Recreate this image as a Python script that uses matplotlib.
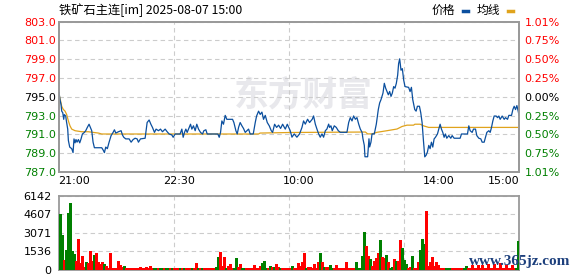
import matplotlib
matplotlib.use("Agg")
import matplotlib.pyplot as plt
from matplotlib.lines import Line2D
import numpy as np

# ---- data ----
title = "铁矿石主连[im] 2025-08-07 15:00"
time_labels = ["21:00", "22:30", "10:00", "14:00", "15:00"]
time_label_min = [0, 90, 180, 285, 345]   # trading minutes since 21:00
session_len = 345

price_min = [0.4, 1.1, 1.9, 2.4, 3.2, 3.9, 4.4, 5.4, 5.9, 6.9, 7.4, 8.4, 9.9, 10.9, 11.6, 12.4,
             13.1, 13.9, 14.9, 15.9, 16.9, 17.9, 19.4, 20.4, 21.6, 22.9, 23.9, 24.9, 25.9, 26.9,
             32.4, 33.6, 34.4, 35.4, 36.6, 37.9, 39.4, 40.9, 41.9, 42.9, 44.9, 46.9, 47.9, 48.9,
             50.4, 52.9, 54.4, 55.9, 57.4, 58.9, 59.9, 61.4, 64.9, 65.6, 66.4, 67.9, 69.2, 70.4,
             71.9, 73.1, 74.9, 76.4, 77.9, 79.9, 81.4, 82.9, 84.9, 85.9, 87.4,
             91.1, 92.4, 93.4, 94.4, 95.4, 96.4, 97.9, 98.9, 99.9, 101.1, 102.4, 103.6, 104.9,
             106.4, 107.9, 108.9, 110.4, 111.4, 119.4, 120.4, 121.4, 122.4, 123.6, 124.9, 126.1,
             130.4, 131.4, 132.9, 133.9, 134.9, 136.1, 137.4, 138.6, 139.9, 142.4, 143.6, 145.9,
             147.4, 148.4, 149.9, 151.1, 152.4, 153.6, 154.9, 156.4, 157.9, 159.4, 160.4, 161.9,
             163.4, 164.9, 166.4, 167.9, 169.9, 171.4, 173.6, 174.9, 176.6, 178.6, 180.6,
             182.4, 183.6, 184.9, 186.6, 188.1, 189.1, 190.1, 191.1, 192.4, 193.6, 194.9, 196.1,
             197.4, 198.6, 199.9, 201.1, 202.4, 203.1, 204.1, 205.1, 206.6, 208.1, 209.6, 211.1,
             216.1, 217.4, 218.6, 219.9, 221.1, 222.4, 223.6, 224.9, 226.1, 227.4, 228.1, 229.1,
             229.6, 231.6, 232.6, 233.1, 234.1, 234.9, 236.6, 238.1, 239.6, 240.6, 241.6, 243.1,
             244.1, 245.1, 246.1, 247.1, 248.1, 249.1, 250.1, 251.1, 252.1, 253.1, 254.1, 254.8,
             255.6, 256.6, 257.6, 258.6, 259.6, 262.3, 263.4, 264.4, 265.4, 266.9, 267.9, 268.9,
             270.4, 271.4, 272.4, 273.4, 274.4, 275.4, 276.4, 277.4, 278.4, 279.4, 280.4, 281.4,
             282.4, 283.9, 284.9, 285.9, 286.9, 287.9, 288.9, 289.9, 290.9, 292.4, 293.9, 294.9,
             296.4, 300.9, 301.9, 306.4, 307.4, 308.4, 309.9, 310.9, 312.4, 313.4, 314.9, 316.4,
             317.4, 318.9, 319.9, 320.9, 322.4, 323.4, 324.4, 325.4, 326.4, 327.9, 328.9, 329.9,
             330.9, 332.4, 333.9, 334.9, 336.4, 337.4, 339.4, 340.4, 341.4, 342.4, 343.4, 344.4, 345.0]
price = [795.45, 794.69, 794.17, 793.47, 793.3, 792.6, 793.1, 792.95, 792.43, 791.56, 790.35, 789.65,
         789.48, 789.06, 790.52, 790.1, 790.45, 790.17, 790.45, 790.1, 790.52, 791.04, 791.21, 791.39,
         791.74, 792.08, 791.74, 791.39, 790.17, 789.58, 789.58, 789.3, 789.06, 789.65, 789.48, 790.17,
         790.87, 791.21, 791.49, 791.14, 791.28, 791.39, 790.94, 790.69, 790.52, 790.52, 790.17, 790.45,
         790.59, 790.52, 790.17, 790.52, 790.59, 791.39, 792.26, 792.53, 792.08, 791.74, 791.21, 791.56,
         791.39, 791.56, 791.28, 791.56, 791.28, 791.04, 790.94, 790.69, 791.04,
         791.04, 791.56, 790.69, 791.21, 791.56, 791.21, 791.74, 792.08, 791.56, 791.91, 791.39, 792.08,
         791.56, 791.21, 791.04, 791.39, 791.49, 791.04, 791.04, 790.69, 791.21, 792.43, 792.08, 793.02,
         792.6, 792.6, 792.26, 791.39, 791.04, 791.74, 792.26, 791.91, 791.63, 791.21, 791.56, 791.04,
         791.04, 792.26, 792.95, 793.47, 793.12, 793.37, 792.6, 793.02, 792.26, 791.91, 791.39, 791.21,
         792.08, 791.74, 791.98, 791.63, 792.08, 791.56, 792.08, 791.39, 790.7, 791.05, 790.7, 791.05,
         791.74, 792.43, 792.09, 792.61, 792.26, 792.43, 792.61, 792.96, 792.09, 791.57, 791.05, 790.7,
         791.05, 790.7, 791.39, 791.57, 792.09, 791.74, 791.91, 791.39, 791.91, 791.74, 791.39, 791.22,
         791.22, 792.26, 792.78, 792.43, 792.96, 792.61, 792.78, 792.09, 791.57, 791.22, 790.53, 789.83,
         788.62, 788.62, 790.53, 789.66, 790.18, 791.05, 791.05, 792.09, 793.65, 794.34, 794.69, 795.39,
         796.43, 795.91, 795.56, 795.21, 795.56, 795.04, 795.39, 796.08, 795.91, 796.43, 797.3, 798.51,
         799.03, 797.82, 797.99, 796.78, 796.08, 796.0, 795.55, 796.0, 794.69, 793.64, 793.47, 793.99,
         793.99, 793.3, 792.26, 790.35, 788.61, 788.78, 789.13, 789.83, 789.48, 790.17, 789.65, 790.52,
         790.69, 791.04, 791.56, 792.08, 791.56, 791.21, 790.69, 791.04, 790.59, 790.87, 790.59, 790.87,
         790.59, 790.59, 791.04, 791.04, 791.91, 791.39, 791.21, 791.56, 791.56, 790.87, 790.59, 790.52,
         790.17, 790.17, 790.69, 791.21, 791.39, 791.21, 791.74, 792.43, 792.95, 792.95, 792.78, 792.95,
         792.6, 792.95, 792.6, 792.78, 792.6, 793.02, 793.02, 793.64, 793.99, 793.64, 794.06, 793.47, 793.02]

avg_min = [0, 1.1, 2.4, 3.6, 4.9, 6.1, 7.4, 8.6, 9.9, 12.4, 17.4, 22.4, 26.1, 29.9, 32.4, 149.9,
           151.0, 173.6, 229.9, 231.6, 234.9, 238.6, 246.1, 253.6, 257.4, 261.1, 266.0, 267.0,
           271.0, 273.6, 277.4, 345.0]
avg_price = [795.45, 794.86, 793.99, 793.65, 793.47, 793.12, 792.43, 791.91, 791.56, 791.39, 791.28,
             791.28, 791.21, 791.14, 791.04, 791.04, 791.14, 791.2, 791.25, 791.05, 791.05, 791.22,
             791.39, 791.57, 791.84, 791.98, 791.98, 792.08, 792.08, 791.9, 791.74, 791.74]

prev_close = 795.0
price_ticks = [803, 801, 799, 797, 795, 793, 791, 789, 787]
pct_labels = ["1.01%", "0.75%", "0.50%", "0.25%", "0.00%", "0.25%", "0.50%", "0.75%", "1.01%"]

vol = [4640, 2920, 820, 1640, 4720, 5600, 1560, 1300, 740, 2540,
       600, 1150, 270, 630, 600, 1560, 740, 1230, 1450, 680,
       460, 680, 460, 330, 160, 1370, 160, 200, 160, 740,
       400, 250, 330, 160, 160, 200, 160, 160, 160, 160,
       280, 160, 160, 280, 160, 330, 160, 160, 160, 160,
       160, 160, 160, 160, 160, 160, 160, 160, 160, 160,
       160, 160, 160, 160, 160, 160, 160, 160, 550, 160,
       160, 160, 160, 160, 160, 200, 160, 160, 250, 1090,
       1500, 350, 1090, 200, 350, 460, 160, 160, 1010, 250,
       490, 160, 200, 160, 160, 160, 160, 410, 200, 160,
       350, 600, 760, 160, 160, 350, 270, 270, 490, 270,
       160, 160, 160, 160, 160, 160, 330, 200, 160, 550,
       330, 630, 1370, 160, 250, 250, 160, 460, 160, 680,
       1450, 630, 250, 250, 250, 410, 200, 160, 410, 160,
       160, 160, 160, 680, 160, 200, 160, 200, 680, 160,
       200, 1150, 3140, 1990, 1150, 900, 300, 740, 1010, 1420,
       2460, 1090, 1010, 1230, 680, 160, 270, 900, 740, 740,
       2460, 1830, 820, 460, 200, 250, 1150, 200, 160, 680,
       1640, 2600, 2130, 4860, 350, 680, 1090, 350, 680, 410,
       200, 200, 160, 160, 200, 160, 160, 160, 160, 160,
       160, 160, 160, 350, 160, 160, 400, 160, 160, 400,
       160, 450, 160, 160, 500, 160, 160, 500, 160, 160,
       600, 160, 160, 450, 160, 160, 400, 200, 160, 2400]
# 1 = price up (red), 0 = price down (green)
vol_up = [0, 0, 1, 0, 0, 0, 0, 0, 1, 1,
          1, 1, 1, 0, 1, 1, 1, 0, 1, 1,
          1, 1, 0, 1, 1, 1, 1, 1, 1, 1,
          1, 1, 0, 1, 1, 1, 1, 1, 1, 1,
          1, 1, 1, 1, 1, 1, 1, 0, 0, 1,
          0, 0, 1, 0, 0, 1, 0, 1, 1, 1,
          0, 1, 0, 1, 1, 1, 0, 1, 1, 0,
          1, 0, 1, 1, 1, 1, 1, 1, 0, 0,
          1, 1, 1, 0, 1, 1, 1, 0, 0, 1,
          1, 0, 0, 1, 1, 1, 1, 1, 1, 1,
          1, 0, 0, 0, 1, 0, 1, 0, 1, 1,
          0, 1, 1, 1, 1, 1, 0, 1, 1, 1,
          1, 1, 1, 0, 1, 1, 1, 1, 1, 1,
          0, 1, 0, 1, 1, 0, 0, 1, 1, 1,
          1, 1, 1, 1, 1, 1, 1, 1, 0, 0,
          0, 0, 0, 1, 1, 0, 1, 1, 1, 1,
          0, 1, 1, 0, 1, 0, 0, 1, 0, 1,
          1, 0, 0, 0, 1, 1, 0, 1, 1, 1,
          0, 0, 0, 1, 1, 1, 1, 1, 1, 1,
          1, 1, 1, 0, 0, 0, 1, 1, 1, 1,
          1, 1, 0, 0, 1, 1, 1, 1, 1, 1,
          1, 1, 1, 1, 1, 1, 1, 1, 1, 1,
          1, 1, 1, 1, 1, 1, 1, 1, 0, 0]
vol_ticks = [0, 1536, 3071, 4607, 6142]

RED = "#ff0000"
GREEN = "#008000"
BLUE = "#0b4f9e"
GOLD = "#e0a31c"
SPINE = "#9a9a9a"
GRID = "#cccccc"

W, H = 578, 276
fig = plt.figure(figsize=(W / 100, H / 100), dpi=100)
fig.patch.set_facecolor("white")

L, R = 58.5, 519
ax = fig.add_axes([L / W, 1 - 172 / H, (R - L) / W, 150.5 / H])
axv = fig.add_axes([L / W, 1 - 270 / H, (R - L) / W, 74 / H])


def tick_color(p):
    if p > prev_close:
        return RED
    if p < prev_close:
        return GREEN
    return "black"


def frame(a):
    for s in a.spines.values():
        s.set_color(SPINE)
        s.set_linewidth(1.3)
    a.tick_params(length=0, labelsize=8)


# ---- price panel ----
ax.text(0.533, 0.51, "东方财富", transform=ax.transAxes, ha="center", va="center",
        fontsize=25, fontweight="bold", color="#e8e8ec", family=["Noto Sans CJK SC"], zorder=0)
ax.plot(avg_min, avg_price, color=GOLD, lw=0.9, zorder=2)
ax.plot(price_min, price, color=BLUE, lw=0.9, zorder=3)
ax.set_xlim(0, session_len)
ax.set_ylim(min(price_ticks), max(price_ticks))
frame(ax)

ax.set_yticks(price_ticks)
ax.set_yticklabels(["%.1f" % p for p in price_ticks])
for lab, p in zip(ax.get_yticklabels(), price_ticks):
    lab.set_color(tick_color(p))
ax.tick_params(axis="y", pad=2)
ax.grid(axis="y", color=GRID, lw=0.8, ls=(0, (4, 3)))

quarters = [session_len * k / 4 for k in (1, 2, 3)]
ax.set_xticks(quarters, minor=True)
ax.grid(axis="x", which="minor", color=GRID, lw=0.8, ls=(0, (4, 3)))
ax.tick_params(axis="x", which="minor", length=0)
ax.set_xticks(time_label_min)
ax.set_xticklabels(time_labels)
ax.tick_params(axis="x", pad=3)
xl = ax.get_xticklabels()
xl[0].set_ha("left")
xl[-1].set_ha("right")

ax2 = ax.twinx()
ax2.set_ylim(ax.get_ylim())
ax2.set_yticks(price_ticks)
ax2.set_yticklabels(pct_labels)
for lab, p in zip(ax2.get_yticklabels(), price_ticks):
    lab.set_color(tick_color(p))
frame(ax2)
ax2.tick_params(axis="y", pad=4)

# ---- volume panel ----
xs = np.arange(len(vol))
cols = [RED if u else GREEN for u in vol_up]
axv.vlines(xs, 0, vol, colors=cols, linewidth=0.75, antialiased=False, zorder=3)
lo, hi = -0.5, len(vol) - 0.25
axv.set_xlim(lo, hi)
axv.set_ylim(0, max(vol_ticks))
frame(axv)
axv.set_yticks(vol_ticks)
axv.set_yticklabels([str(v) for v in vol_ticks])
axv.tick_params(axis="y", pad=5)
axv.set_xticks([lo + (hi - lo) * k / 4 for k in (1, 2, 3)])
axv.set_xticklabels([])
axv.grid(color=GRID, lw=0.8, ls=(0, (4, 3)))
axv.set_axisbelow(True)

# ---- header ----
cjk = ["Noto Sans CJK SC", "DejaVu Sans"]
fig.text(59 / W, 1 - 10 / H, title, ha="left", va="center", fontsize=8.8, family=cjk)
fig.text(432 / W, 1 - 10 / H, "价格", ha="left", va="center", fontsize=8.5, family=cjk)
fig.text(477 / W, 1 - 10 / H, "均线", ha="left", va="center", fontsize=8.5, family=cjk)
fig.add_artist(Line2D([463 / W, 468 / W], [1 - 11 / H, 1 - 11 / H], color=BLUE, lw=2.5,
                      transform=fig.transFigure))
fig.add_artist(Line2D([508 / W, 513 / W], [1 - 11 / H, 1 - 11 / H], color=GOLD, lw=2.5,
                      transform=fig.transFigure))

fig.text(570 / W, 1 - 261 / H, "www.365jz.com", ha="right", va="center", fontsize=11,
         fontweight="bold", color="#1c3f7c", family=["Liberation Serif", "DejaVu Serif"])

fig.savefig("out.png", dpi=100)
